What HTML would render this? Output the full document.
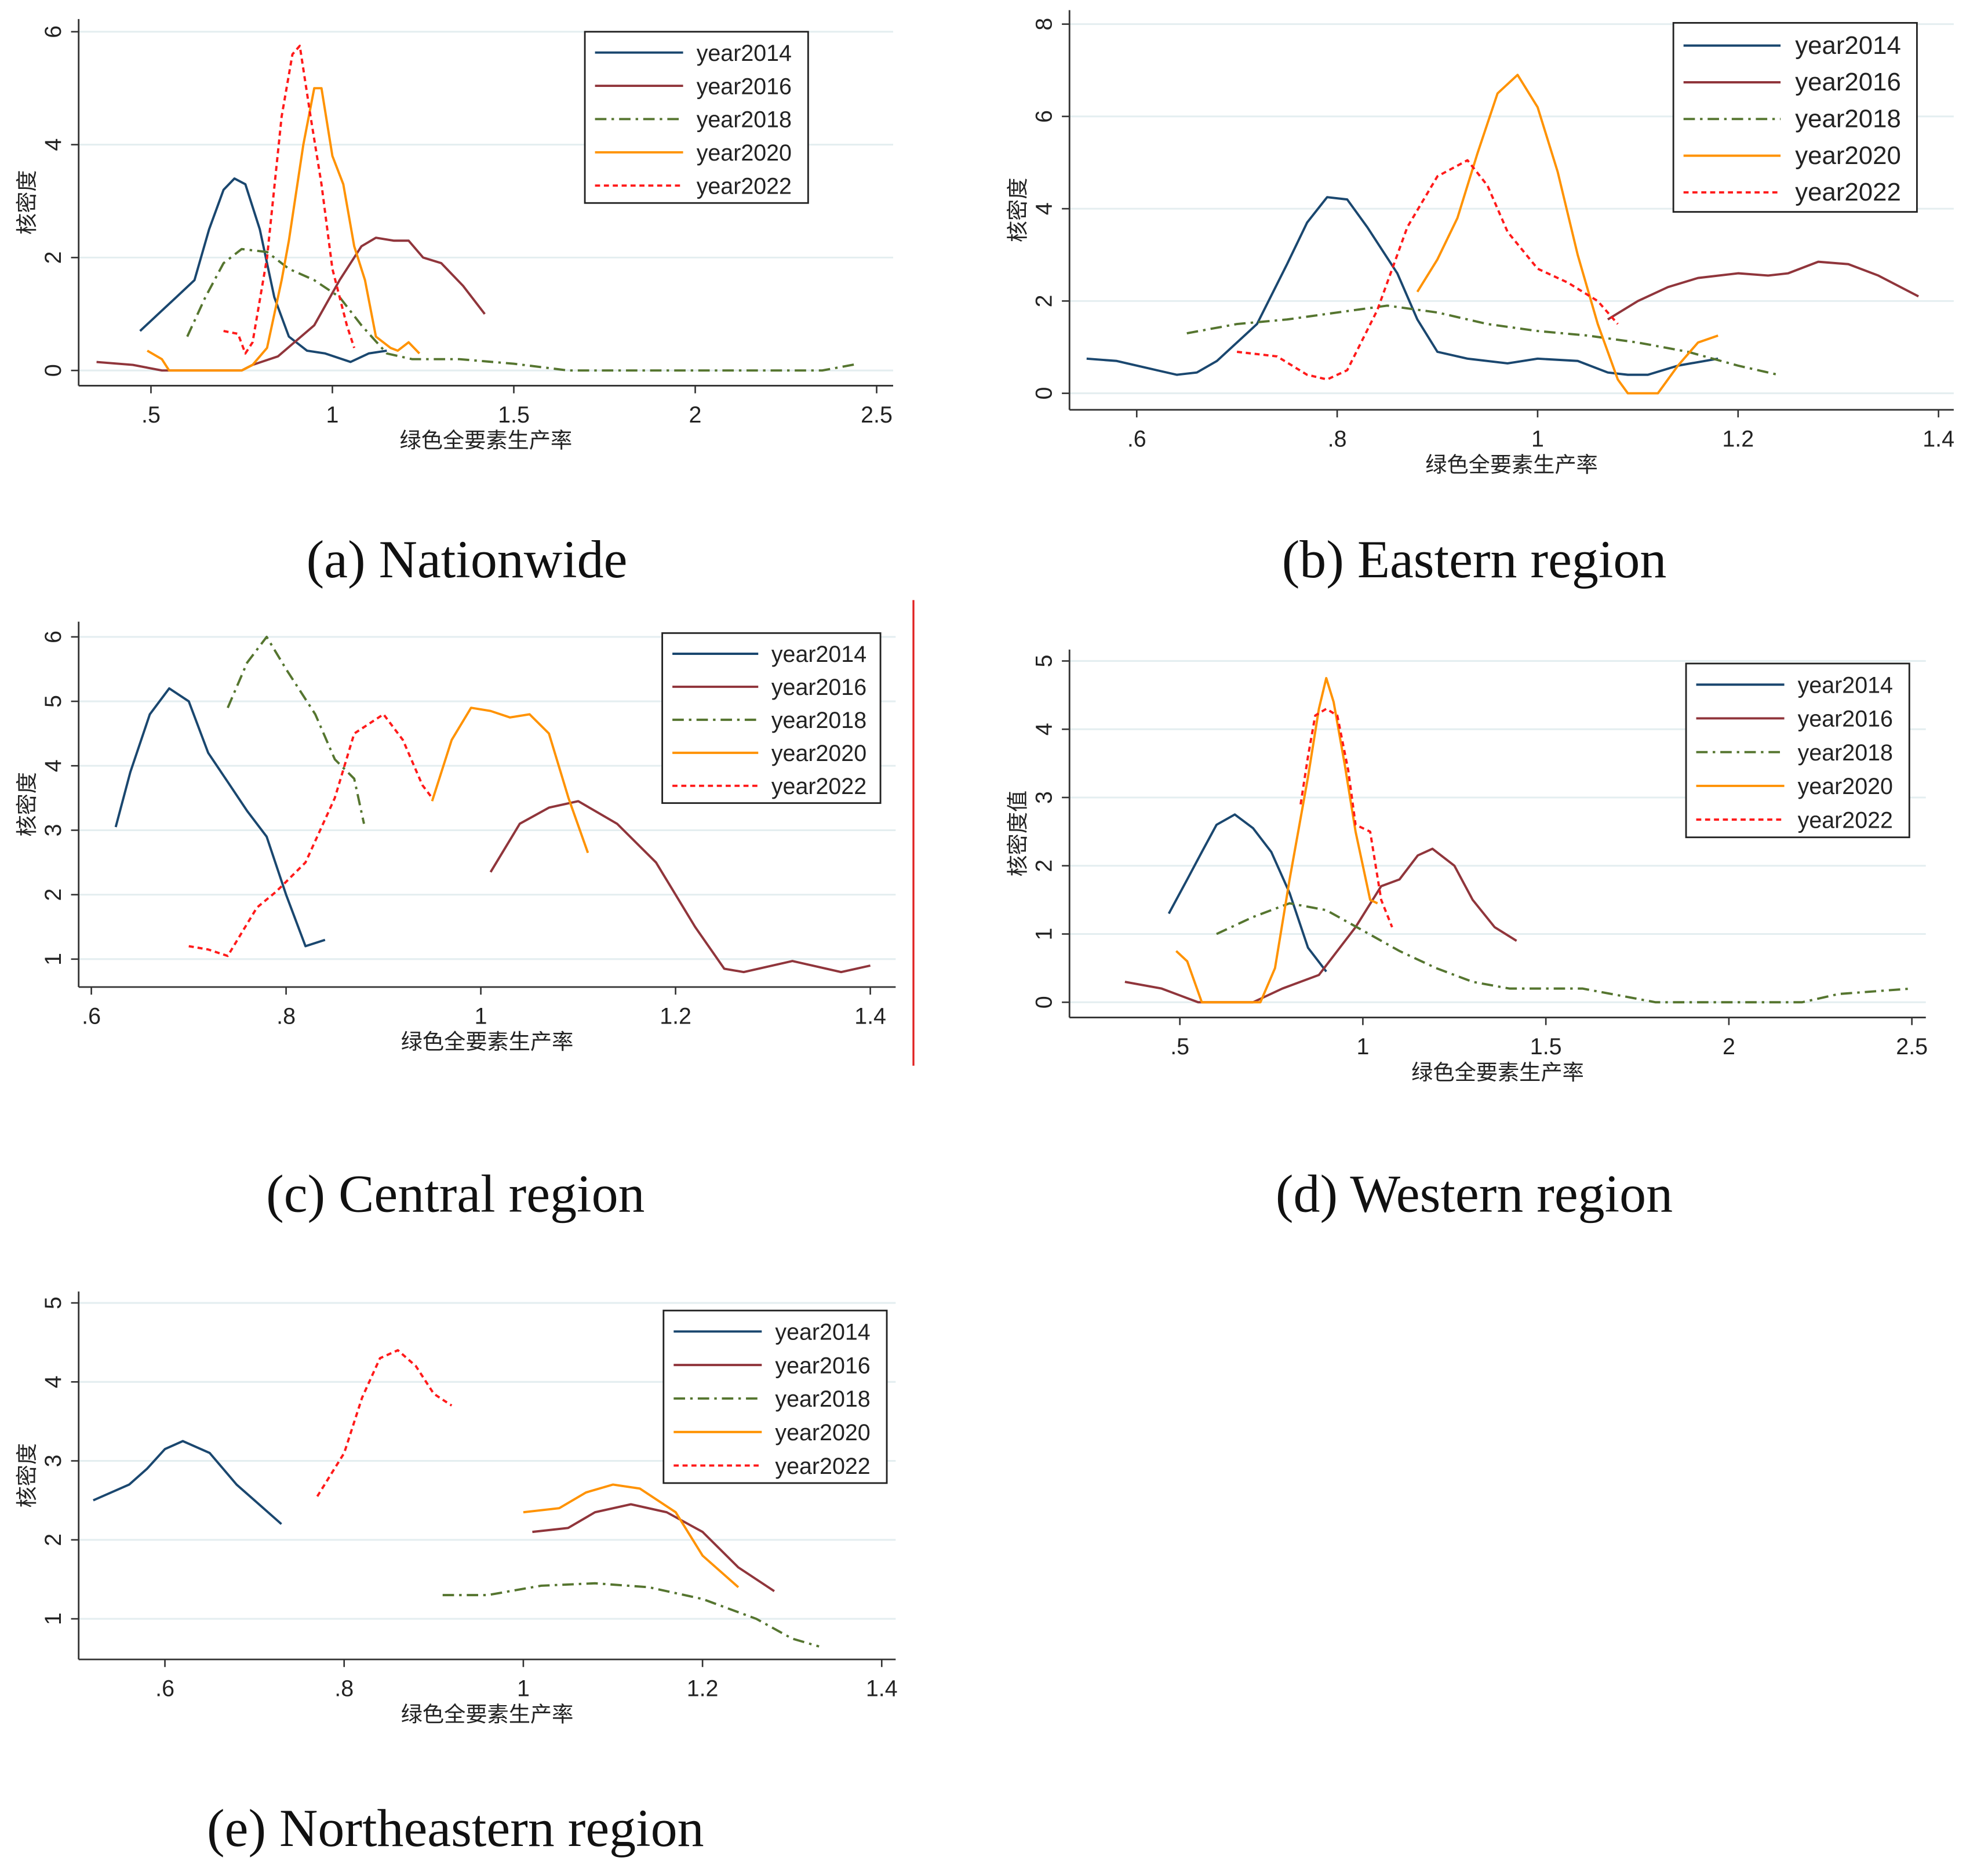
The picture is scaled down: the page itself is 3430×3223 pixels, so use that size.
<!DOCTYPE html>
<html><head><meta charset="utf-8"><style>
html,body{margin:0;padding:0;background:#fff}
svg{display:block}
text{font-family:"Liberation Sans","Noto Sans CJK SC",sans-serif;fill:#222}
.cap{font-family:"Liberation Serif","Noto Serif CJK SC",serif;font-size:42px;fill:#111}
</style></head><body>
<svg id="root" xmlns="http://www.w3.org/2000/svg" width="3430" height="3223" viewBox="0 0 1567 1472.4">
<rect width="1567" height="1473" fill="#fff"/>
<line x1="720" y1="473" x2="720" y2="840" stroke="#e02020" stroke-width="1.5"/>
<text class="cap" x="368" y="455" text-anchor="middle">(a) Nationwide</text>
<text class="cap" x="1162" y="455" text-anchor="middle">(b) Eastern region</text>
<text class="cap" x="359" y="955" text-anchor="middle">(c) Central region</text>
<text class="cap" x="1162" y="955" text-anchor="middle">(d) Western region</text>
<text class="cap" x="359" y="1455" text-anchor="middle">(e) Northeastern region</text>
</svg>
<script>
const seriesNames = ["year2014","year2016","year2018","year2020","year2022"];
const xTicksA = [0.5,1,1.5,2,2.5], xTickLabelsA = [".5","1","1.5","2","2.5"], yTicksA = [0,2,4,6];
const a2014 = [[0.47,0.7],[0.52,1.0],[0.57,1.3],[0.62,1.6],[0.66,2.5],[0.70,3.2],[0.73,3.4],[0.76,3.3],[0.80,2.5],[0.84,1.3],[0.88,0.6],[0.93,0.35],[0.98,0.3],[1.05,0.15],[1.10,0.3],[1.15,0.35]];
const a2016 = [[0.35,0.15],[0.45,0.1],[0.53,0.0],[0.75,0.0],[0.78,0.1],[0.85,0.25],[0.95,0.8],[1.02,1.6],[1.08,2.2],[1.12,2.35],[1.17,2.3],[1.21,2.3],[1.25,2.0],[1.30,1.9],[1.36,1.5],[1.42,1.0]];
const a2018 = [[0.60,0.6],[0.65,1.3],[0.70,1.9],[0.75,2.15],[0.82,2.1],[0.88,1.8],[0.95,1.6],[1.02,1.3],[1.08,0.8],[1.15,0.3],[1.22,0.2],[1.35,0.2],[1.5,0.12],[1.65,0],[2.0,0],[2.35,0],[2.45,0.12]];
const a2020 = [[0.49,0.35],[0.53,0.2],[0.55,0],[0.75,0],[0.78,0.1],[0.82,0.4],[0.86,1.6],[0.88,2.3],[0.92,4.0],[0.95,5.0],[0.97,5.0],[1.00,3.8],[1.03,3.3],[1.06,2.2],[1.09,1.6],[1.12,0.6],[1.16,0.4],[1.18,0.35],[1.21,0.5],[1.24,0.3]];
const a2022 = [[0.70,0.7],[0.74,0.65],[0.76,0.3],[0.78,0.5],[0.82,2.0],[0.86,4.5],[0.89,5.6],[0.91,5.75],[0.94,4.5],[0.97,3.3],[1.00,1.8],[1.04,0.8],[1.06,0.4]];

const xTicksB = [0.6,0.8,1,1.2,1.4], xTickLabelsB = [".6",".8","1","1.2","1.4"], yTicksB = [0,2,4,6,8];
const b2014 = [[0.55,0.75],[0.58,0.7],[0.62,0.5],[0.64,0.4],[0.66,0.45],[0.68,0.7],[0.72,1.5],[0.75,2.8],[0.77,3.7],[0.79,4.25],[0.81,4.2],[0.83,3.6],[0.86,2.6],[0.88,1.6],[0.90,0.9],[0.93,0.75],[0.97,0.65],[1.0,0.75],[1.04,0.7],[1.07,0.45],[1.09,0.4],[1.11,0.4],[1.14,0.6],[1.18,0.75]];
const b2016 = [[1.07,1.6],[1.10,2.0],[1.13,2.3],[1.16,2.5],[1.20,2.6],[1.23,2.55],[1.25,2.6],[1.28,2.85],[1.31,2.8],[1.34,2.55],[1.38,2.1]];
const b2018 = [[0.65,1.3],[0.70,1.5],[0.75,1.6],[0.80,1.75],[0.85,1.9],[0.90,1.75],[0.95,1.5],[1.0,1.35],[1.05,1.25],[1.10,1.1],[1.15,0.9],[1.20,0.6],[1.24,0.4]];
const b2020 = [[0.88,2.2],[0.90,2.9],[0.92,3.8],[0.94,5.2],[0.96,6.5],[0.98,6.9],[1.00,6.2],[1.02,4.8],[1.04,3.0],[1.06,1.5],[1.08,0.3],[1.09,0],[1.12,0],[1.14,0.6],[1.16,1.1],[1.18,1.25]];
const b2022 = [[0.70,0.9],[0.74,0.8],[0.77,0.4],[0.79,0.3],[0.81,0.5],[0.84,1.8],[0.87,3.6],[0.90,4.7],[0.93,5.05],[0.95,4.5],[0.97,3.5],[1.0,2.7],[1.03,2.4],[1.06,2.0],[1.08,1.5]];

const xTicksC = [0.6,0.8,1,1.2,1.4], xTickLabelsC = [".6",".8","1","1.2","1.4"], yTicksC = [1,2,3,4,5,6];
const c2014 = [[0.625,3.05],[0.64,3.9],[0.66,4.8],[0.68,5.2],[0.70,5.0],[0.72,4.2],[0.74,3.75],[0.76,3.3],[0.78,2.9],[0.80,2.0],[0.82,1.2],[0.84,1.3]];
const c2016 = [[1.01,2.35],[1.04,3.1],[1.07,3.35],[1.10,3.45],[1.14,3.1],[1.18,2.5],[1.22,1.5],[1.25,0.85],[1.27,0.8],[1.32,0.97],[1.37,0.8],[1.40,0.9]];
const c2018 = [[0.74,4.9],[0.76,5.6],[0.78,6.0],[0.80,5.5],[0.83,4.8],[0.85,4.1],[0.87,3.8],[0.88,3.1]];
const c2020 = [[0.95,3.45],[0.97,4.4],[0.99,4.9],[1.01,4.85],[1.03,4.75],[1.05,4.8],[1.07,4.5],[1.09,3.5],[1.11,2.65]];
const c2022 = [[0.70,1.2],[0.72,1.15],[0.74,1.05],[0.77,1.8],[0.79,2.05],[0.82,2.5],[0.85,3.5],[0.87,4.5],[0.90,4.8],[0.92,4.4],[0.94,3.7],[0.95,3.5]];

const xTicksD = [0.5,1,1.5,2,2.5], xTickLabelsD = [".5","1","1.5","2","2.5"], yTicksD = [0,1,2,3,4,5];
const d2014 = [[0.47,1.3],[0.52,1.8],[0.56,2.2],[0.60,2.6],[0.65,2.75],[0.70,2.55],[0.75,2.2],[0.80,1.6],[0.85,0.8],[0.90,0.45]];
const d2016 = [[0.35,0.3],[0.45,0.2],[0.55,0.0],[0.70,0.0],[0.78,0.2],[0.88,0.4],[0.98,1.1],[1.05,1.7],[1.10,1.8],[1.15,2.15],[1.19,2.25],[1.25,2.0],[1.30,1.5],[1.36,1.1],[1.42,0.9]];
const d2018 = [[0.60,1.0],[0.70,1.25],[0.80,1.45],[0.90,1.35],[1.00,1.05],[1.10,0.75],[1.20,0.5],[1.30,0.3],[1.40,0.2],[1.60,0.2],[1.80,0],[2.20,0],[2.30,0.12],[2.50,0.2]];
const d2020 = [[0.49,0.75],[0.52,0.6],[0.56,0],[0.72,0],[0.76,0.5],[0.80,1.8],[0.85,3.3],[0.88,4.3],[0.90,4.75],[0.92,4.4],[0.95,3.5],[0.98,2.5],[1.02,1.5],[1.04,1.45]];
const d2022 = [[0.83,2.9],[0.85,3.6],[0.87,4.2],[0.90,4.3],[0.93,4.2],[0.96,3.4],[0.98,2.6],[1.02,2.5],[1.05,1.5],[1.08,1.1]];

const xTicksE = [0.6,0.8,1,1.2,1.4], xTickLabelsE = [".6",".8","1","1.2","1.4"], yTicksE = [1,2,3,4,5];
const e2014 = [[0.52,2.5],[0.56,2.7],[0.58,2.9],[0.60,3.15],[0.62,3.25],[0.65,3.1],[0.68,2.7],[0.70,2.5],[0.73,2.2]];
const e2016 = [[1.01,2.1],[1.05,2.15],[1.08,2.35],[1.12,2.45],[1.16,2.35],[1.20,2.1],[1.24,1.65],[1.28,1.35]];
const e2018 = [[0.91,1.3],[0.96,1.3],[1.02,1.42],[1.08,1.45],[1.14,1.4],[1.20,1.25],[1.26,1.0],[1.30,0.75],[1.33,0.65]];
const e2020 = [[1.0,2.35],[1.04,2.4],[1.07,2.6],[1.10,2.7],[1.13,2.65],[1.17,2.35],[1.20,1.8],[1.24,1.4]];
const e2022 = [[0.77,2.55],[0.80,3.1],[0.82,3.8],[0.84,4.3],[0.86,4.4],[0.88,4.2],[0.90,3.85],[0.92,3.7]];

const styles = [
 {c:"#1a476f",d:""},{c:"#90353b",d:""},{c:"#55752f",d:"9 4 2 4"},{c:"#ff9200",d:""},{c:"#ff1a1a",d:"4 3"}];
const NS="http://www.w3.org/2000/svg";
const root=document.getElementById('root');
function mk(tag,attrs,parent){const e=document.createElementNS(NS,tag);for(const k in attrs)e.setAttribute(k,attrs[k]);(parent||root).appendChild(e);return e;}

function panel(id,cfg,series,xTicks,xLabels,yTicks){
  const g=mk('g',{});
  
  
  const sx=v=>cfg.xp0+(v-cfg.xv0)*(cfg.xp1-cfg.xp0)/(cfg.xv1-cfg.xv0);
  const sy=v=>cfg.yp0+(v-cfg.yv0)*(cfg.yp1-cfg.yp0)/(cfg.yv1-cfg.yv0);
  yTicks.forEach(t=>{
    const l=mk('line',{x1:cfg.L,x2:cfg.R,y1:sy(t),y2:sy(t),stroke:'#e4eef0','stroke-width':1.4},g);
    
    
  });
  const ya=mk('line',{x1:cfg.L,x2:cfg.L,y1:cfg.T,y2:cfg.B,stroke:'#333','stroke-width':1.3},g);
  
  
  const xa=mk('line',{x1:cfg.L,x2:cfg.R,y1:cfg.B,y2:cfg.B,stroke:'#333','stroke-width':1.3},g);
  
  
  xTicks.forEach((t,i)=>{
    const x=sx(t);
    mk('line',{x1:x,x2:x,y1:cfg.B,y2:cfg.B+6,stroke:'#333','stroke-width':1.2},g);
    const tx=mk('text',{x:x,y:cfg.B+29,'text-anchor':'middle','font-size':18},g);
    tx.textContent=xLabels[i];
    
    
  });
  yTicks.forEach(t=>{
    const y=sy(t);
    mk('line',{x1:cfg.L-6,x2:cfg.L,y1:y,y2:y,stroke:'#333','stroke-width':1.2},g);
    const tx=mk('text',{x:cfg.L-14,y:y,'text-anchor':'middle','font-size':18,transform:`rotate(-90 ${cfg.L-14} ${y})`},g);
    tx.textContent=String(t);
    
    
  });
  const xt=mk('text',{x:(cfg.L+cfg.R)/2,y:cfg.B+49,'text-anchor':'middle','font-size':17},g);
  xt.textContent='绿色全要素生产率';
  
  
  const ym=(cfg.T+cfg.B)/2, yx=cfg.L-35;
  const yt=mk('text',{x:yx,y:ym,'text-anchor':'middle','font-size':17,transform:`rotate(-90 ${yx} ${ym})`},g);
  yt.textContent=cfg.ylab;
  
  
  series.forEach((pts,i)=>{
    const p=mk('polyline',{points:pts.map(q=>sx(q[0]).toFixed(1)+','+sy(q[1]).toFixed(1)).join(' '),fill:'none',stroke:styles[i].c,'stroke-width':1.8,'stroke-linejoin':'round','stroke-dasharray':styles[i].d||'none'},g);
    
    
  });
  const lg=mk('g',{},g);
  
  
  const lw=cfg.lw, lh=cfg.lh;
  mk('rect',{x:cfg.lx,y:cfg.ly,width:lw,height:lh,fill:'#fff',stroke:'#222','stroke-width':1.3},lg);
  const step=lh/5.15;
  seriesNames.forEach((n,i)=>{
    const y=cfg.ly+step*(i+0.55)+2;
    const e=mk('g',{},lg);
    
    
    mk('line',{x1:cfg.lx+8,x2:cfg.lx+lw*0.44,y1:y,y2:y,stroke:styles[i].c,'stroke-width':1.8,'stroke-dasharray':styles[i].d||'none'},e);
    const t=mk('text',{x:cfg.lx+lw*0.5,y:y+6.5,'font-size':cfg.lfs},e);
    t.textContent=n;
  });
}
panel('a',{xp0:119,xv0:0.5,xp1:691,xv1:2.5,yp0:292,yv0:0,yp1:25,yv1:6,L:62,R:704,T:15,B:304,ylab:'核密度',lx:461,ly:25,lw:176,lh:135,lfs:18},[a2014,a2016,a2018,a2020,a2022],xTicksA,xTickLabelsA,yTicksA);
panel('b',{xp0:896,xv0:0.6,xp1:1528,xv1:1.4,yp0:310,yv0:0,yp1:19,yv1:8,L:843,R:1540,T:8,B:323,ylab:'核密度',lx:1319,ly:18,lw:192,lh:149,lfs:20},[b2014,b2016,b2018,b2020,b2022],xTicksB,xTickLabelsB,yTicksB);
panel('c',{xp0:72,xv0:0.6,xp1:686,xv1:1.4,yp0:756,yv0:1,yp1:502,yv1:6,L:62,R:706,T:490,B:778,ylab:'核密度',lx:522,ly:499,lw:172,lh:134,lfs:18},[c2014,c2016,c2018,c2020,c2022],xTicksC,xTickLabelsC,yTicksC);
panel('d',{xp0:930,xv0:0.5,xp1:1507,xv1:2.5,yp0:790,yv0:0,yp1:521,yv1:5,L:843,R:1518,T:512,B:802,ylab:'核密度值',lx:1329,ly:523,lw:176,lh:137,lfs:18},[d2014,d2016,d2018,d2020,d2022],xTicksD,xTickLabelsD,yTicksD);
panel('e',{xp0:130,xv0:0.6,xp1:695,xv1:1.4,yp0:1276,yv0:1,yp1:1027,yv1:5,L:62,R:706,T:1018,B:1308,ylab:'核密度',lx:523,ly:1033,lw:176,lh:136,lfs:18},[e2014,e2016,e2018,e2020,e2022],xTicksE,xTickLabelsE,yTicksE);
</script>
</body></html>
